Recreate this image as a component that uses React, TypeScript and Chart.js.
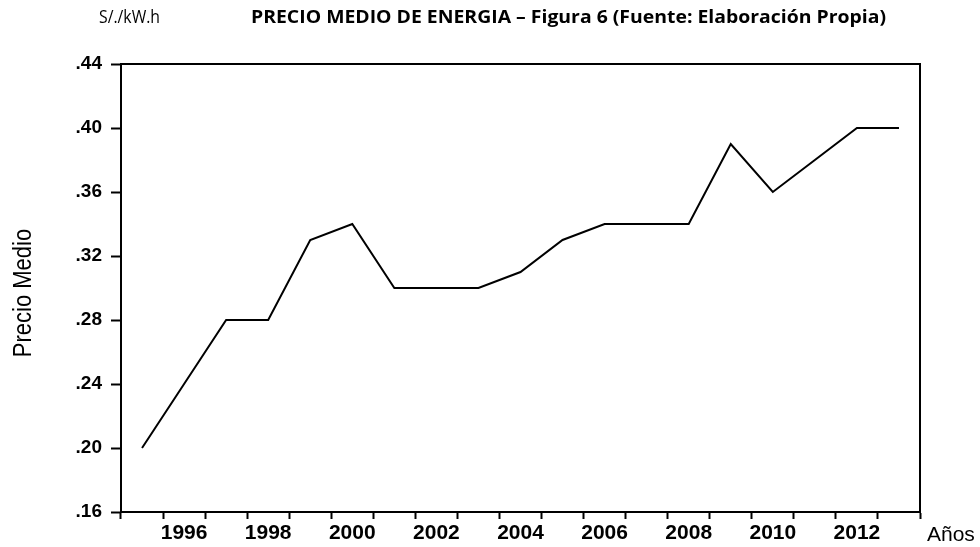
import React, { useEffect, useRef } from "react";
import { Chart, registerables } from "chart.js";

Chart.register(...registerables);

const years: string[] = [
  "1995", "1996", "1997", "1998", "1999", "2000", "2001", "2002", "2003", "2004",
  "2005", "2006", "2007", "2008", "2009", "2010", "2011", "2012", "2013",
];
const precioMedio: number[] = [
  0.20, 0.24, 0.28, 0.28, 0.33, 0.34, 0.30, 0.30, 0.30, 0.31,
  0.33, 0.34, 0.34, 0.34, 0.39, 0.36, 0.38, 0.40, 0.40,
];
const yTickValues: number[] = [0.16, 0.20, 0.24, 0.28, 0.32, 0.36, 0.40, 0.44];

const titleText = "PRECIO MEDIO DE ENERGIA – Figura 6 (Fuente: Elaboración Propia)";
const unitText = "S/./kW.h";
const yTitleText = "Precio Medio";
const xTitleText = "Años";

function drawFitted(ctx: CanvasRenderingContext2D, text: string, x: number, y: number, width: number) {
  const w = ctx.measureText(text).width;
  ctx.save();
  ctx.translate(x, y);
  ctx.scale(width / w, 1);
  ctx.textAlign = "left";
  ctx.fillText(text, 0, 0);
  ctx.restore();
}

const decorPlugin = {
  id: "decor",
  afterDraw(chart: any) {
    const ctx: CanvasRenderingContext2D = chart.ctx;
    const a = chart.chartArea;
    ctx.save();
    ctx.strokeStyle = "#000";
    ctx.lineWidth = 2;
    ctx.beginPath();
    ctx.moveTo(a.left, a.top);
    ctx.lineTo(a.right, a.top);
    ctx.lineTo(a.right, a.bottom);
    ctx.stroke();

    ctx.fillStyle = "#000";
    ctx.textBaseline = "alphabetic";
    ctx.font = "18px 'Open Sans'";
    drawFitted(ctx, unitText, 99, 23, 61);
    ctx.font = "bold 18px 'Open Sans'";
    drawFitted(ctx, titleText, 251, 23, 635);

    ctx.font = "21px 'Liberation Sans'";
    ctx.textAlign = "left";
    ctx.fillText(xTitleText, 927, 541);

    ctx.save();
    ctx.translate(31, 293);
    ctx.rotate(-Math.PI / 2);
    ctx.font = "22px 'Liberation Sans'";
    ctx.textAlign = "center";
    ctx.scale(1, 1.15);
    ctx.fillText(yTitleText, 0, 0);
    ctx.restore();

    ctx.restore();
  },
};

export default function App() {
  const ref = useRef<HTMLCanvasElement | null>(null);
  useEffect(() => {
    if (!ref.current) return;
    const chart = new Chart(ref.current, {
      type: "line",
      data: {
        labels: years,
        datasets: [
          {
            data: precioMedio,
            borderColor: "#000",
            borderWidth: 2,
            pointRadius: 0,
            tension: 0,
            fill: false,
          },
        ],
      },
      options: {
        responsive: false,
        animation: false,
        layout: { padding: { top: 64, right: 60, left: 0, bottom: 0 } },
        plugins: {
          legend: { display: false },
          tooltip: { enabled: false },
          title: { display: false },
        },
        scales: {
          x: {
            type: "category",
            offset: true,
            grid: {
              offset: true,
              drawOnChartArea: false,
              drawTicks: true,
              tickLength: 7,
              tickWidth: 2,
              tickColor: "#000",
            },
            border: { display: true, color: "#000", width: 2 },
            ticks: {
              autoSkip: false,
              maxRotation: 0,
              minRotation: 0,
              padding: 2,
              color: "#000",
              font: { family: "'Liberation Sans'", size: 21, weight: "bold" },
              callback: (_v: any, i: number) => (Number(years[i]) % 2 === 0 ? years[i] : ""),
            },
            afterFit: (s: any) => {
              s.height = 35;
            },
          },
          y: {
            min: 0.16,
            max: 0.44,
            afterBuildTicks: (s: any) => {
              s.ticks = yTickValues.map((v) => ({ value: v }));
            },
            grid: {
              drawOnChartArea: false,
              drawTicks: true,
              tickLength: 10,
              tickWidth: 2,
              tickColor: "#000",
            },
            border: { display: true, color: "#000", width: 2 },
            ticks: {
              padding: 9,
              color: "#000",
              font: { family: "'Liberation Sans'", size: 19, weight: "bold" },
              callback: (v: any) => Number(v).toFixed(2).replace(/^0/, ""),
            },
            afterFit: (s: any) => {
              s.width = 121;
            },
          },
        },
      },
      plugins: [decorPlugin],
    });
    return () => chart.destroy();
  }, []);
  return (
    <div style={{ position: "fixed", left: 0, top: 0, width: 980, height: 547, background: "#fff" }}>
      <canvas ref={ref} width={980} height={547} />
    </div>
  );
}
